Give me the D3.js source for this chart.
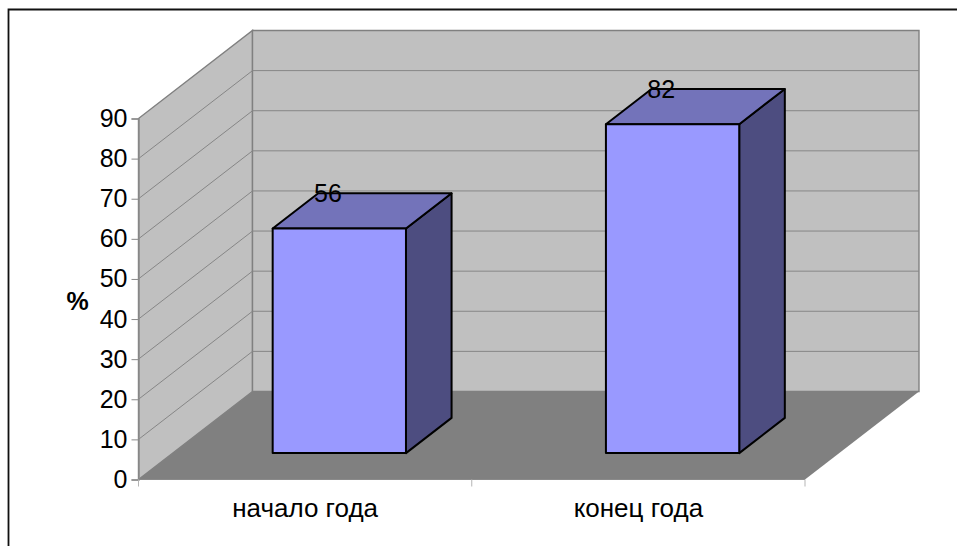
<!DOCTYPE html>
<html><head><meta charset="utf-8">
<script src="https://cdn.jsdelivr.net/npm/d3@7"></script>
<style>html,body{margin:0;padding:0;background:#fff}svg{display:block}text{font-family:"Liberation Sans",Arial,sans-serif;fill:#000}</style>
</head><body><svg id="c" width="957" height="546"></svg>
<script>
const categories = ["начало года", "конец года"];
const values = [56, 82];
const yTicks = [0, 10, 20, 30, 40, 50, 60, 70, 80, 90];
const yTitle = "%";

const svg = d3.select("#c");
const x = d3.scaleBand().domain(categories).range([138.5, 805]);
const y = d3.scaleLinear().domain([0, 90]).range([479.5, 118.5]);
const depthX = d3.scaleLinear().domain([0, 1]).range([0, 114]);
const depthY = d3.scaleLinear().domain([0, 1]).range([0, -88]);
const P = (px, py, d) => [px + depthX(d), py + depthY(d)];
const poly = pts => "M" + pts.map(p => p.join(",")).join("L") + "Z";
const [x0, x1] = x.range();
const yMax = y.domain()[1];

svg.append("path").attr("fill", "none").attr("stroke", "#111").attr("stroke-width", 1.8)
  .attr("d", "M8.5,546V9.5H957");

// walls and floor
svg.append("path").attr("d", poly([P(x0, y(0), 0), P(x0, y(yMax), 0), P(x0, y(yMax), 1), P(x0, y(0), 1)]))
  .attr("fill", "#c0c0c0").attr("stroke", "#808080").attr("stroke-width", 1.4);
svg.append("path").attr("d", poly([P(x0, y(0), 1), P(x0, y(yMax), 1), P(x1, y(yMax), 1), P(x1, y(0), 1)]))
  .attr("fill", "#c0c0c0").attr("stroke", "#808080").attr("stroke-width", 1.4);
svg.append("path").attr("d", poly([P(x0, y(0), 0), P(x0, y(0), 1), P(x1, y(0), 1), P(x1, y(0), 0)]))
  .attr("fill", "#808080");

// gridlines
yTicks.slice(1, -1).forEach(t => {
  svg.append("path").attr("fill", "none").attr("stroke", "#868686").attr("stroke-width", 1)
    .attr("d", d3.line()([P(x0, y(t), 0), P(x0, y(t), 1), P(x1, y(t), 1)]));
});

// axes
const yAxis = d3.axisLeft(y).tickValues(yTicks).tickSize(7).tickPadding(4);
const gy = svg.append("g").attr("transform", `translate(${x0},0)`).call(yAxis);
gy.selectAll("path,line").attr("stroke", "#8a8a8a").attr("stroke-width", 1);
gy.select(".domain").attr("stroke-width", 1.4);
gy.selectAll("text").attr("font-size", 25).attr("font-family", '"Liberation Sans"').attr("fill", "#000");
svg.append("line").attr("x1", x0).attr("x2", x1).attr("y1", y(0)).attr("y2", y(0)).attr("stroke", "#8a8a8a");
[x0, x.step() + x0, x1].forEach(tx => {
  svg.append("line").attr("x1", tx).attr("x2", tx).attr("y1", y(0)).attr("y2", y(0) + 7).attr("stroke", "#b5b5b5");
});
categories.forEach(c => {
  svg.append("text").attr("x", x(c) + x.bandwidth() / 2).attr("y", 517).attr("text-anchor", "middle")
    .attr("font-size", 26).text(c);
});
svg.append("text").attr("x", 77.5).attr("y", 310).attr("text-anchor", "middle")
  .attr("font-size", 25).attr("font-weight", "bold").text(yTitle);

// bars
const dFront = 0.3, dBack = 0.7, pad = 0.3, dLabel = 0.2;
const stroke = { stroke: "#000", sw: 2 };
categories.forEach((c, i) => {
  const v = values[i];
  const a = x(c) + x.bandwidth() * pad, b = x(c) + x.bandwidth() * (1 - pad);
  const g = svg.append("g").attr("stroke", stroke.stroke).attr("stroke-width", stroke.sw).attr("stroke-linejoin", "round");
  g.append("path").attr("fill", "#4d4d80").attr("d", poly([P(b, y(0), dFront), P(b, y(v), dFront), P(b, y(v), dBack), P(b, y(0), dBack)]));
  g.append("path").attr("fill", "#7373ba").attr("d", poly([P(a, y(v), dFront), P(b, y(v), dFront), P(b, y(v), dBack), P(a, y(v), dBack)]));
  g.append("path").attr("fill", "#9999ff").attr("d", poly([P(a, y(0), dFront), P(b, y(0), dFront), P(b, y(v), dFront), P(a, y(v), dFront)]));
  const lx = (a + b) / 2 + depthX(dLabel);
  const ly = P(a, y(v), dBack)[1] + 9;
  svg.append("text").attr("x", lx).attr("y", ly).attr("text-anchor", "middle").attr("font-size", 25).text(v);
});
</script></body></html>
